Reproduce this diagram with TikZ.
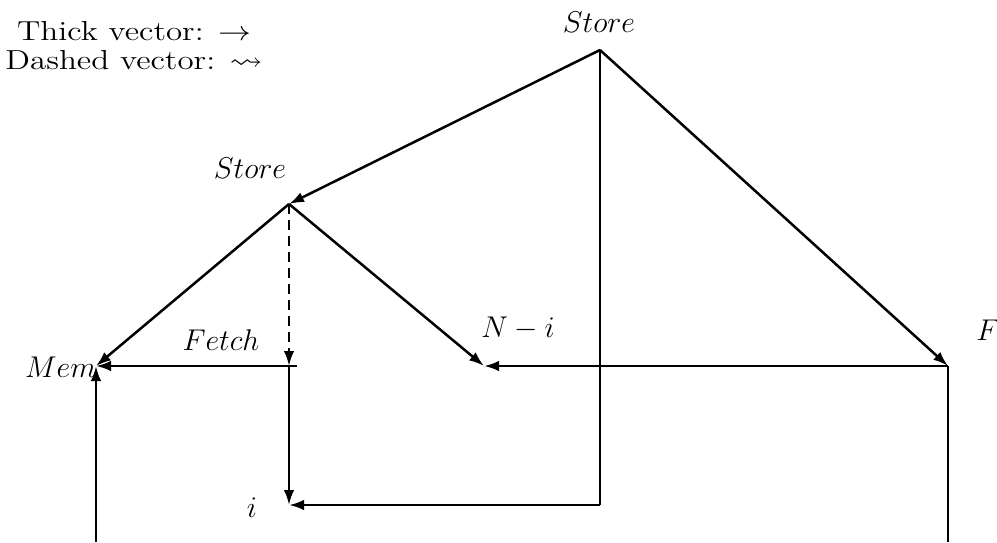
\documentclass[tikz,border=0pt]{standalone}
\usepackage{amsmath,amssymb}
\usetikzlibrary{arrows.meta}

\begin{document}
\begin{tikzpicture}[x=0.4pt,y=-0.4pt,
      vec/.style={line width=1pt,-{Latex[length=6pt,width=4.2pt]}},
      dvec/.style={vec,dash pattern=on 4pt off 2.4pt},
      plainline/.style={line width=0.8pt},
      lab/.style={inner sep=1pt,font=\large}]
    \useasboundingbox (0,0) rectangle (997,542);
    % legend
    \node[inner sep=1pt,font=\fontsize{11}{11.8}\selectfont] (legend) at (134,49)
      {\scalebox{1.2}[1]{\begin{tabular}{@{}c@{}}Thick vector: $\rightarrow$\\ Dashed vector: $\leadsto$\end{tabular}}};
    % points of the graph
    \coordinate (top) at (600,50);
    \coordinate (st) at (289,204);
    \coordinate (mem) at (96,366);
    \coordinate (fj) at (289,366);
    \coordinate (fjr) at (297,366);
    \coordinate (nmi) at (484,366);
    \coordinate (fp) at (948,366);
    \coordinate (fk) at (948,440);
    \coordinate (ip) at (289,505);
    \coordinate (corner) at (600,505);
    \coordinate (memlow) at (96,542);
    \coordinate (flow) at (948,542);
    % labels
    \node[lab] (ltop) at (599,22) {$Store$};
    \node[lab] (lst) at (250,168) {$Store$};
    \node[lab,anchor=east] (lmem) at (99,367) {$Mem$};
    \node[lab] (lfetch) at (221,340) {$Fetch$};
    \node[lab] (lnmi) at (518,328) {$N - i$};
    \node[lab] (li) at (252,508) {$i$};
    \node[lab] (lf) at (988,330) {$F$};
    % vectors
    \draw[vec] (top) -- (st);
    \draw[vec] (top) -- (fp);
    \draw[plainline] (top) -- (corner);
    \draw[vec] (st) -- (mem);
    \draw[vec] (st) -- (nmi);
    \draw[dvec] (st) -- (fj);
    \draw[vec] (fjr) -- (mem);
    \draw[vec] (fj) -- (ip);
    \draw[vec] (corner) -- (ip);
    \draw[vec] (fp) -- (nmi);
    \draw[vec] (memlow) -- (mem);
    \draw[line width=1pt] (fp) -- (fk);
    \draw[plainline] (fk) -- (flow);
\end{tikzpicture}
\end{document}
